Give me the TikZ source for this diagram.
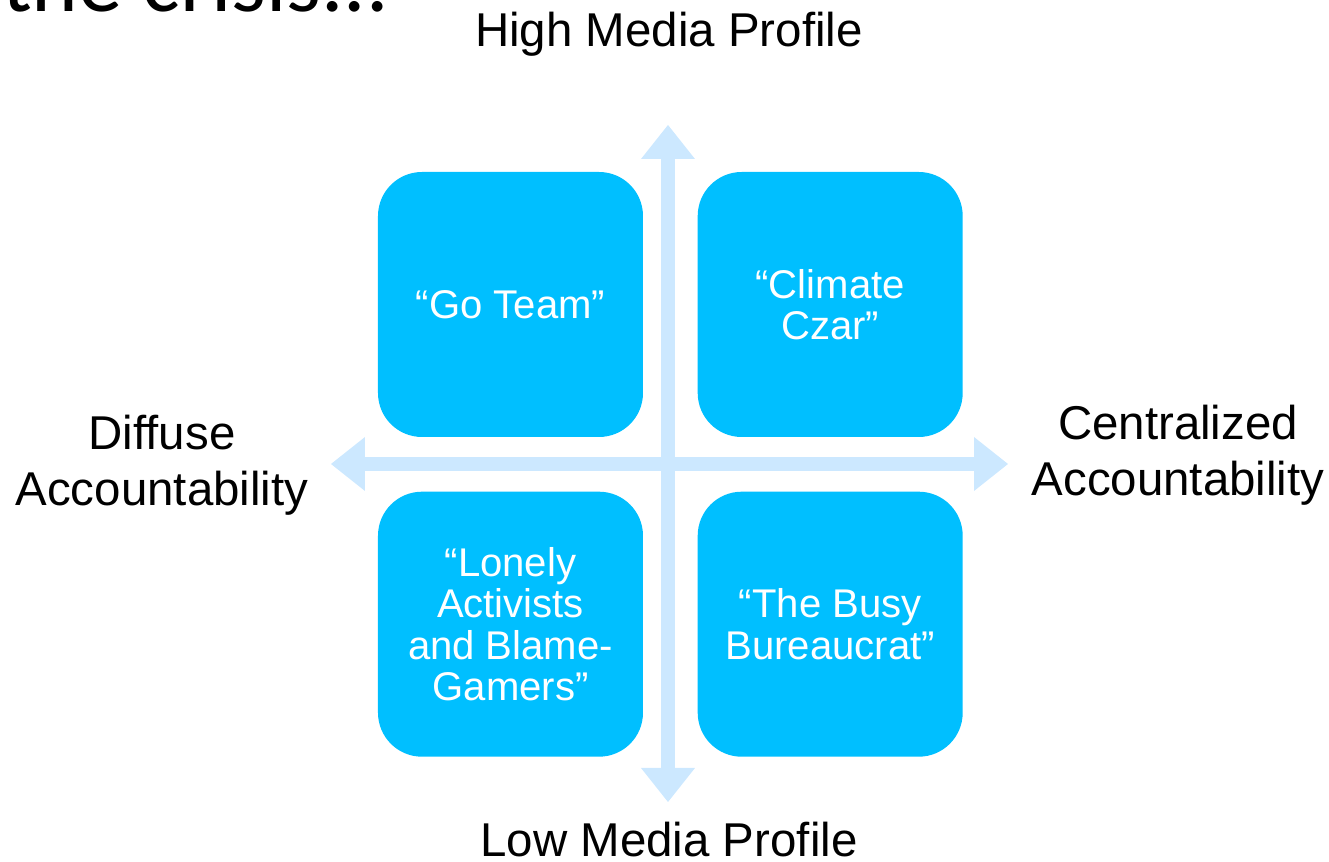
\documentclass[tikz,border=0pt]{standalone}
\usepackage{fontspec}
\setmainfont{Liberation Sans}
\newfontfamily\titlefont{Carlito}
\usepackage{tikz}
\usetikzlibrary{arrows.meta, positioning}
\definecolor{quadblue}{RGB}{0, 191, 255}
\definecolor{axisblue}{RGB}{204, 232, 255}
\tikzset{
  quad/.style = {fill = quadblue, rounded corners = 0.88cm, minimum width = 5.3cm, minimum height = 5.3cm, inner sep = 0pt, align = center, text = white, font = \fontsize{22.8}{23.6}\selectfont},
  axislabel/.style = {align = center, inner sep = 0pt, font = \fontsize{27}{31.9}\selectfont},
  axistip/.style = {arrows = {Triangle[width = 1.08cm, length = 0.68cm, line width = 0pt]-Triangle[width = 1.08cm, length = 0.68cm, line width = 0pt]}},
  axis/.style = {axisblue, line width = 0.28cm, axistip}
}

\begin{document}
\begin{tikzpicture}
\clip (-13.36, -7.96) rectangle (13.22, 9.28);

% slide title, cut off at the top
\node[anchor = base east, inner sep = 0pt, font = \titlefont\fontsize{50.5}{60}\selectfont] (title) at (-5.58, 9.04) {the crisis...};

% axes
\coordinate (top) at (0, 6.78);
\coordinate (bottom) at (0, -6.76);
\coordinate (left) at (-6.74, 0);
\coordinate (right) at (6.80, 0);
\draw[axis] (bottom) -- (top);
\draw[axis] (left) -- (right);

\node[axislabel, anchor = base] (high) at (0.02, 8.34) {High Media Profile};
\node[axislabel, anchor = base] (low) at (0.02, -7.86) {Low Media Profile};
\node[axislabel] (diffuse) at (-10.12, -0.02) {Diffuse\\Accountability};
\node[axislabel] (central) at (10.2, 0.18) {Centralized\\Accountability};

% quadrants
\node[quad] (goteam) at (-3.15, 3.19) {“Go Team”};
\node[quad, right = 1.08cm of goteam] (czar) {“Climate\\Czar”};
\node[quad, below = 1.08cm of goteam] (lonely) {“Lonely\\Activists\\and Blame-\\Gamers”};
\node[quad, below = 1.08cm of czar] (busy) {“The Busy\\Bureaucrat”};

\end{tikzpicture}
\end{document}
